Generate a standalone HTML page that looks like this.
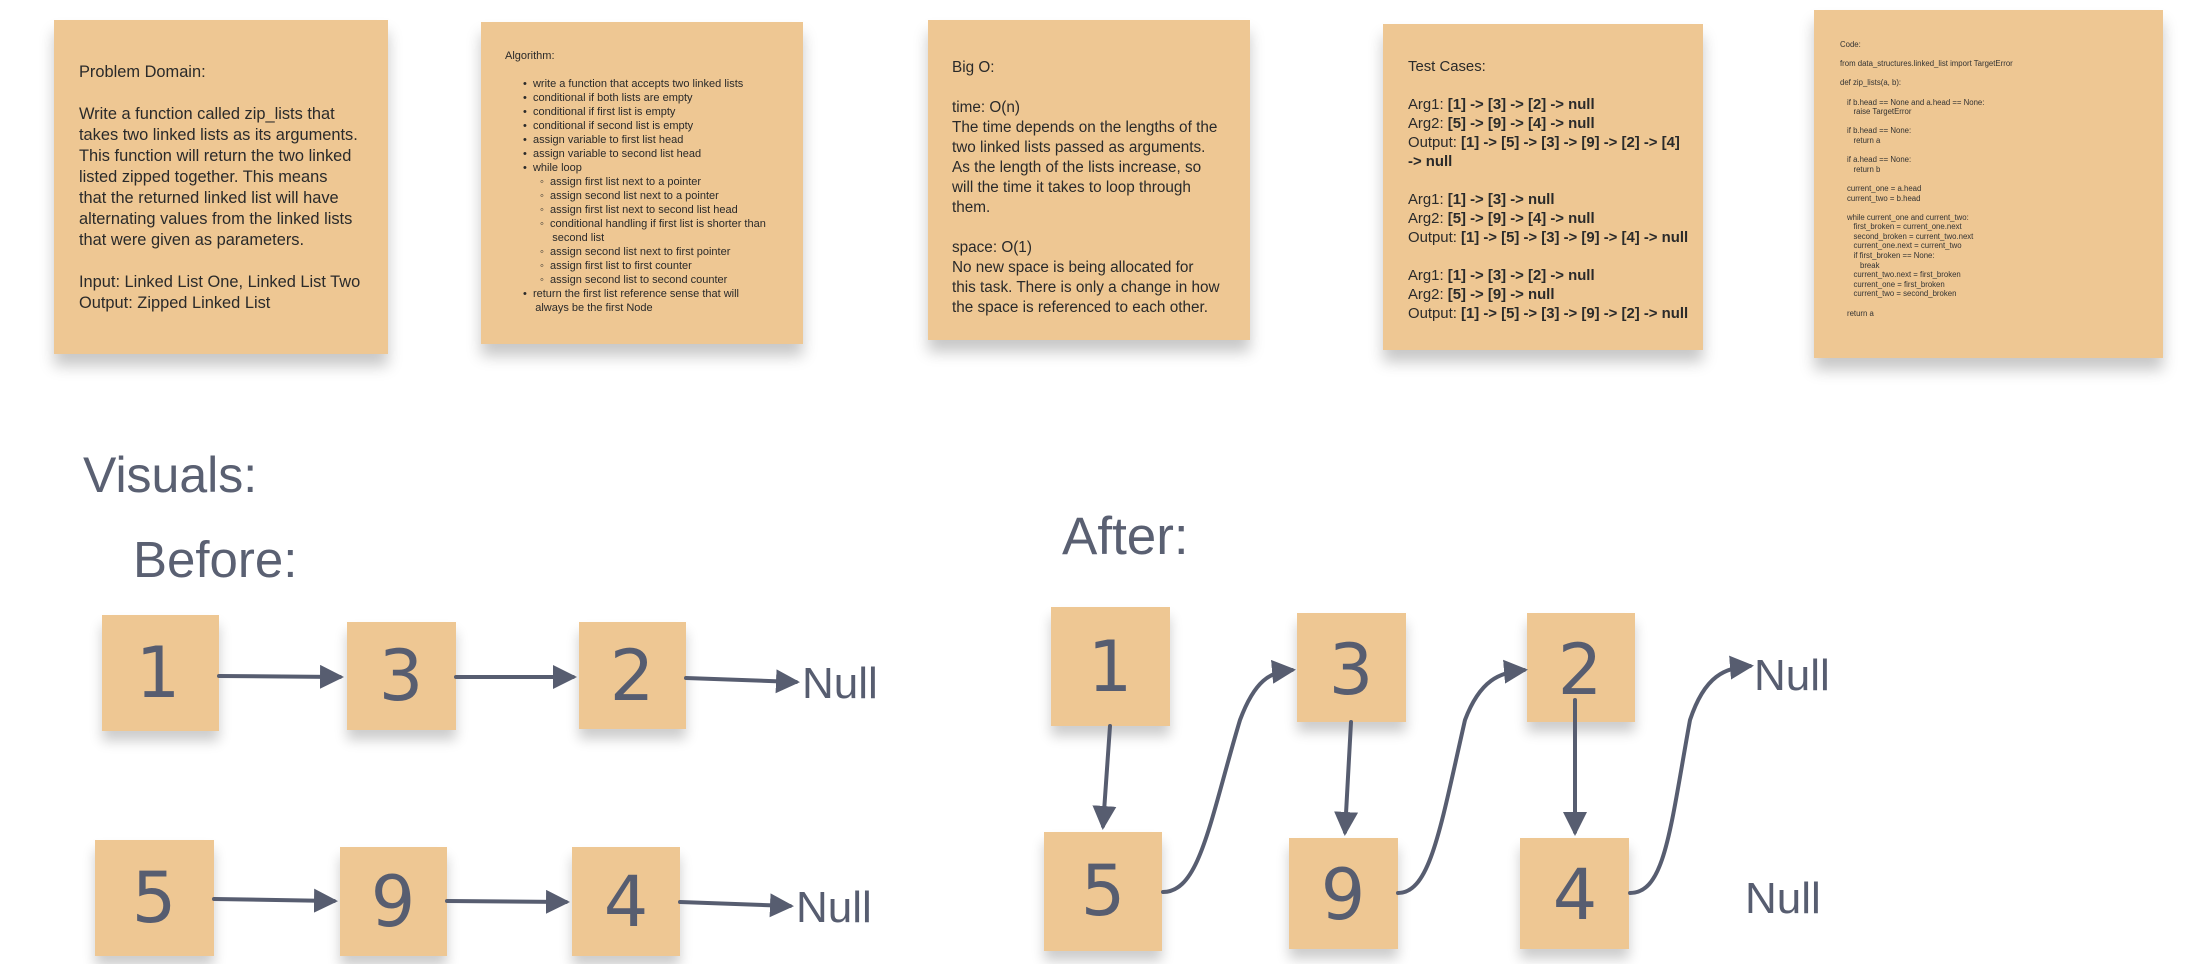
<!DOCTYPE html>
<html><head><meta charset="utf-8"><style>
html,body{margin:0;padding:0;background:#fff;}
body{width:2192px;height:964px;position:relative;overflow:hidden;font-family:"Liberation Sans",sans-serif;color:#2a2a2a;}
.n{position:absolute;background:#eec793;box-shadow:0 12px 14px rgba(0,0,0,0.22);}
.t{position:absolute;white-space:nowrap;}
.h{position:absolute;color:#5a6072;font-family:"Liberation Sans",sans-serif;white-space:nowrap;}
.b{position:absolute;background:#eec793;box-shadow:0 10px 12px rgba(0,0,0,0.2);}
</style></head><body>

<div class="n" style="left:54px;top:20px;width:334px;height:334px;"></div>
<div class="t" style="left:79px;top:62px;font-size:16.4px;line-height:21px;">Problem Domain:<br><br>Write a function called zip_lists that<br>takes two linked lists as its arguments.<br>This function will return the two linked<br>listed zipped together. This means<br>that the returned linked list will have<br>alternating values from the linked lists<br>that were given as parameters.<br><br>Input: Linked List One, Linked List Two<br>Output: Zipped Linked List</div>

<div class="n" style="left:481px;top:22px;width:322px;height:322px;"></div>
<div class="t" style="left:505px;top:49px;font-size:11px;line-height:14px;">Algorithm:<br><br>
<div style="padding-left:18px">• &nbsp;write a function that accepts two linked lists<br>• &nbsp;conditional if both lists are empty<br>• &nbsp;conditional if first list is empty<br>• &nbsp;conditional if second list is empty<br>• &nbsp;assign variable to first list head<br>• &nbsp;assign variable to second list head<br>• &nbsp;while loop<br>
<div style="padding-left:17px">◦ &nbsp;assign first list next to a pointer<br>◦ &nbsp;assign second list next to a pointer<br>◦ &nbsp;assign first list next to second list head<br>◦ &nbsp;conditional handling if first list is shorter than<br>&nbsp;&nbsp;&nbsp;&nbsp;second list<br>◦ &nbsp;assign second list next to first pointer<br>◦ &nbsp;assign first list to first counter<br>◦ &nbsp;assign second list to second counter</div>
• &nbsp;return the first list reference sense that will<br>&nbsp;&nbsp;&nbsp;&nbsp;always be the first Node</div></div>

<div class="n" style="left:928px;top:20px;width:322px;height:320px;"></div>
<div class="t" style="left:952px;top:58px;font-size:15.3px;line-height:20px;">Big O:<br><br>time: O(n)<br>The time depends on the lengths of the<br>two linked lists passed as arguments.<br>As the length of the lists increase, so<br>will the time it takes to loop through<br>them.<br><br>space: O(1)<br>No new space is being allocated for<br>this task. There is only a change in how<br>the space is referenced to each other.</div>

<div class="n" style="left:1383px;top:24px;width:320px;height:326px;"></div>
<div class="t" style="left:1408px;top:58px;font-size:14.9px;line-height:19px;">Test Cases:<br><br>Arg1: <b>[1] -&gt; [3] -&gt; [2] -&gt; null</b><br>Arg2: <b>[5] -&gt; [9] -&gt; [4] -&gt; null</b><br>Output: <b>[1] -&gt; [5] -&gt; [3] -&gt; [9] -&gt; [2] -&gt; [4]</b><br><b>-&gt; null</b><br><br>Arg1: <b>[1] -&gt; [3] -&gt; null</b><br>Arg2: <b>[5] -&gt; [9] -&gt; [4] -&gt; null</b><br>Output: <b>[1] -&gt; [5] -&gt; [3] -&gt; [9] -&gt; [4] -&gt; null</b><br><br>Arg1: <b>[1] -&gt; [3] -&gt; [2] -&gt; null</b><br>Arg2: <b>[5] -&gt; [9] -&gt; null</b><br>Output: <b>[1] -&gt; [5] -&gt; [3] -&gt; [9] -&gt; [2] -&gt; null</b></div>

<div class="n" style="left:1814px;top:10px;width:349px;height:348px;"></div>
<div class="t" style="left:1840px;top:40px;font-size:7.8px;line-height:9.6px;color:#333;">Code:<br><br>from data_structures.linked_list import TargetError<br><br>def zip_lists(a, b):<br><br>
<div style="padding-left:7px">if b.head == None and a.head == None:<br>&nbsp;&nbsp;&nbsp;raise TargetError<br><br>if b.head == None:<br>&nbsp;&nbsp;&nbsp;return a<br><br>if a.head == None:<br>&nbsp;&nbsp;&nbsp;return b<br><br>current_one = a.head<br>current_two = b.head<br><br>while current_one and current_two:<br>&nbsp;&nbsp;&nbsp;first_broken = current_one.next<br>&nbsp;&nbsp;&nbsp;second_broken = current_two.next<br>&nbsp;&nbsp;&nbsp;current_one.next = current_two<br>&nbsp;&nbsp;&nbsp;if first_broken == None:<br>&nbsp;&nbsp;&nbsp;&nbsp;&nbsp;&nbsp;break<br>&nbsp;&nbsp;&nbsp;current_two.next = first_broken<br>&nbsp;&nbsp;&nbsp;current_one = first_broken<br>&nbsp;&nbsp;&nbsp;current_two = second_broken<br><br>return a</div></div>

<div class="h" style="left:83px;top:446px;font-size:50px;">Visuals:</div>
<div class="h" style="left:133px;top:530px;font-size:51px;">Before:</div>
<div class="h" style="left:1062px;top:506px;font-size:53px;">After:</div>

<div class="b" style="left:102px;top:615px;width:117px;height:116px;"></div>
<div class="b" style="left:347px;top:622px;width:109px;height:108px;"></div>
<div class="b" style="left:579px;top:622px;width:107px;height:107px;"></div>
<div class="b" style="left:95px;top:840px;width:119px;height:116px;"></div>
<div class="b" style="left:340px;top:847px;width:107px;height:109px;"></div>
<div class="b" style="left:572px;top:847px;width:108px;height:109px;"></div>
<div class="b" style="left:1051px;top:607px;width:119px;height:119px;"></div>
<div class="b" style="left:1297px;top:613px;width:109px;height:109px;"></div>
<div class="b" style="left:1527px;top:613px;width:108px;height:109px;"></div>
<div class="b" style="left:1044px;top:832px;width:118px;height:119px;"></div>
<div class="b" style="left:1289px;top:838px;width:109px;height:111px;"></div>
<div class="b" style="left:1520px;top:838px;width:109px;height:111px;"></div>

<svg width="2192" height="964" style="position:absolute;left:0;top:0;" xmlns="http://www.w3.org/2000/svg">
<defs><marker id="a" markerWidth="6" markerHeight="6" refX="5" refY="3" orient="auto" markerUnits="strokeWidth"><path d="M0,0 L6,3 L0,6 z" fill="#575d70"/></marker></defs>
<g fill="none" stroke="#575d70" stroke-width="4" stroke-linecap="round">
<path d="M219 676 L340 677" marker-end="url(#a)"/>
<path d="M456 677 L573 677" marker-end="url(#a)"/>
<path d="M686 678 L796 682" marker-end="url(#a)"/>
<path d="M214 899 L334 901" marker-end="url(#a)"/>
<path d="M447 901 L566 902" marker-end="url(#a)"/>
<path d="M680 902 L790 906" marker-end="url(#a)"/>
<path d="M1110 726 L1103 826" marker-end="url(#a)"/>
<path d="M1351 722 L1345 832" marker-end="url(#a)"/>
<path d="M1575 700 L1575 832" marker-end="url(#a)"/>
<path d="M1163 892 C1200 892 1210 820 1240 720 C1255 680 1270 672 1292 670" marker-end="url(#a)"/>
<path d="M1398 893 C1430 893 1440 830 1465 720 C1480 680 1500 672 1524 670" marker-end="url(#a)"/>
<path d="M1630 893 C1665 893 1670 830 1690 720 C1705 675 1725 668 1750 666" marker-end="url(#a)"/>
</g>
<g fill="#575d70" font-family="'DejaVu Sans','Liberation Sans',sans-serif" font-size="70" text-anchor="middle">
<text x="158" y="697">1</text><text x="401" y="700">3</text><text x="632" y="700">2</text>
<text x="154" y="922">5</text><text x="393" y="926">9</text><text x="626" y="926">4</text>
<text x="1110" y="691">1</text><text x="1351" y="694">3</text><text x="1580" y="694">2</text>
<text x="1103" y="915">5</text><text x="1343" y="919">9</text><text x="1575" y="919">4</text>
</g>
<g fill="#575d70" font-family="'Liberation Sans',sans-serif" font-size="44">
<text x="802" y="698">Null</text><text x="796" y="922">Null</text>
<text x="1754" y="690">Null</text><text x="1745" y="913">Null</text>
</g>
</svg>
</body></html>
